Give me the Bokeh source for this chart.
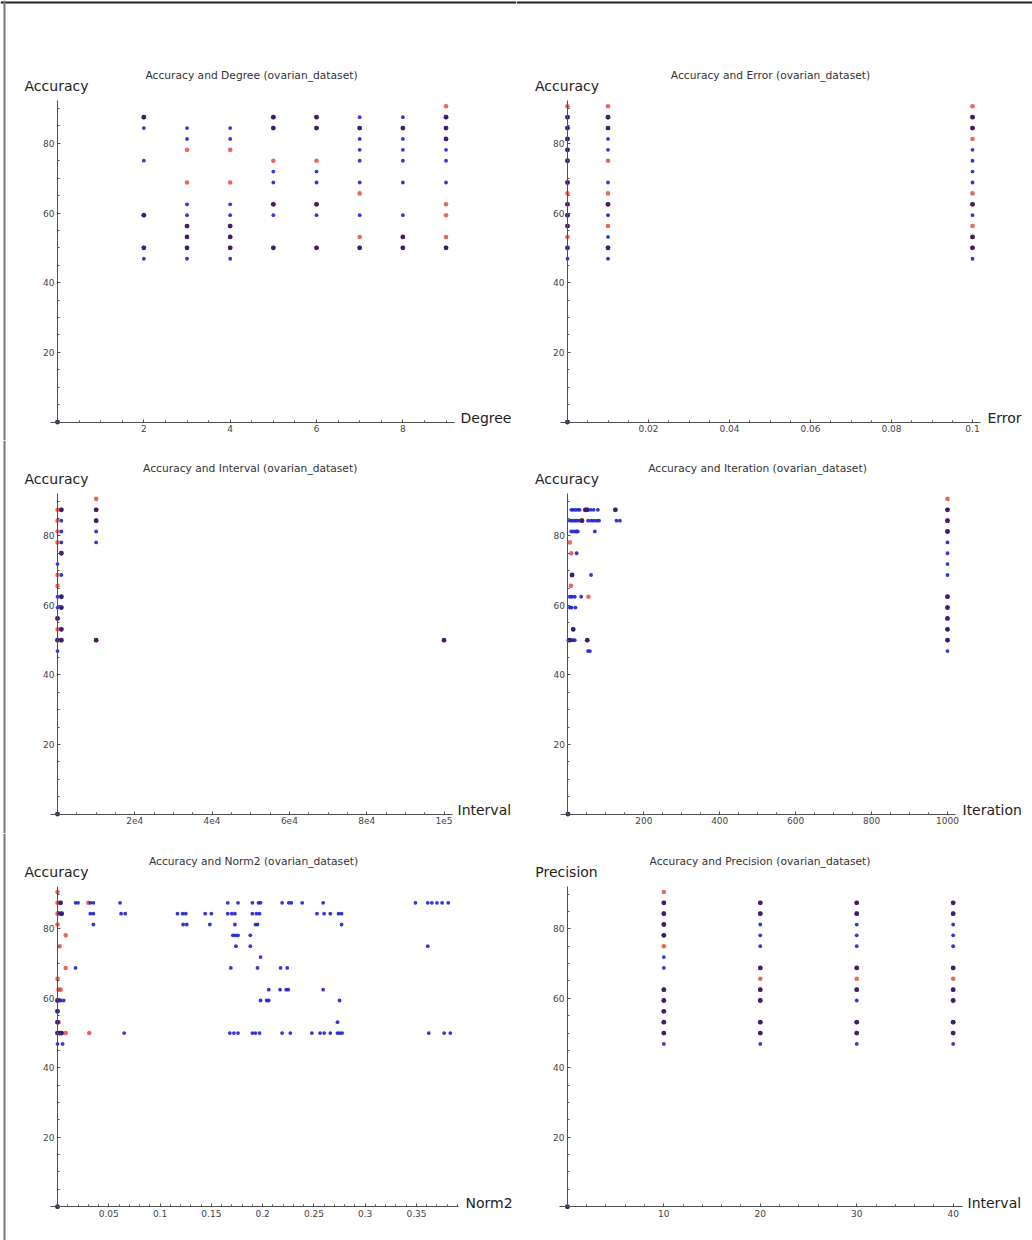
import numpy as np
from bokeh.plotting import figure
from bokeh.models import Range1d, FixedTicker, Label, Span
from bokeh.layouts import column, row
from bokeh.embed import file_html
from bokeh.resources import INLINE

# ---------------- data ----------------
# Panel 1: Accuracy vs Degree
deg_red_x = [0, 2, 2, 2, 3, 3, 3, 3, 3, 4, 4, 4, 4, 4, 5, 5, 5, 5, 5, 6, 6, 6, 6, 6,
             7, 7, 7, 7, 8, 8, 8, 9, 9, 9, 9, 9, 9, 9, 9]
deg_red_y = [0, 87.5, 59.375, 50, 78.125, 68.75, 56.25, 53.125, 50, 78.125, 68.75, 56.25, 53.125, 50,
             87.5, 84.375, 75, 62.5, 50, 87.5, 84.375, 75, 62.5, 50,
             84.375, 65.625, 53.125, 50, 84.375, 53.125, 50,
             90.625, 87.5, 84.375, 81.25, 62.5, 59.375, 53.125, 50]
deg_blue_x = [0, 2, 2, 2, 2, 2, 2, 3, 3, 3, 3, 3, 3, 3, 3, 4, 4, 4, 4, 4, 4, 4, 4,
              5, 5, 5, 5, 5, 5, 5, 6, 6, 6, 6, 6, 6, 6, 7, 7, 7, 7, 7, 7, 7, 7,
              8, 8, 8, 8, 8, 8, 8, 8, 8, 9, 9, 9, 9, 9, 9, 9]
deg_blue_y = [0, 87.5, 84.375, 75, 59.375, 50, 46.875,
              84.375, 81.25, 62.5, 59.375, 56.25, 53.125, 50, 46.875,
              84.375, 81.25, 62.5, 59.375, 56.25, 53.125, 50, 46.875,
              87.5, 84.375, 71.875, 68.75, 62.5, 59.375, 50,
              87.5, 84.375, 71.875, 68.75, 62.5, 59.375, 50,
              87.5, 84.375, 81.25, 78.125, 75, 68.75, 59.375, 50,
              87.5, 84.375, 81.25, 78.125, 75, 68.75, 59.375, 53.125, 50,
              87.5, 84.375, 81.25, 78.125, 75, 68.75, 50]

# Panel 2: Accuracy vs Error
err_red_x = [0] * 14 + [0.01] * 8 + [0.1] * 9
err_red_y = [0, 90.625, 87.5, 84.375, 81.25, 78.125, 75, 68.75, 65.625, 62.5, 59.375, 56.25, 53.125, 50,
             90.625, 87.5, 84.375, 75, 65.625, 62.5, 56.25, 50,
             90.625, 87.5, 84.375, 81.25, 65.625, 62.5, 56.25, 53.125, 50]
err_blue_x = [0] * 12 + [0.01] * 10 + [0.1] * 11
err_blue_y = [0, 87.5, 84.375, 81.25, 78.125, 75, 68.75, 62.5, 59.375, 56.25, 50, 46.875,
              87.5, 84.375, 81.25, 78.125, 68.75, 62.5, 59.375, 53.125, 50, 46.875,
              87.5, 84.375, 78.125, 75, 71.875, 68.75, 62.5, 59.375, 53.125, 50, 46.875]

# Panel 3: Accuracy vs Interval
int_red_x = [0] + [10] * 9 + [1000] * 6 + [10000] * 4 + [100000]
int_red_y = [0, 87.5, 84.375, 81.25, 78.125, 68.75, 65.625, 56.25, 53.125, 50,
             87.5, 75, 62.5, 59.375, 53.125, 50,
             90.625, 87.5, 84.375, 50, 50]
int_blue_x = [0] + [10] * 6 + [1000] * 10 + [10000] * 5 + [100000]
int_blue_y = [0, 71.875, 62.5, 59.375, 56.25, 50, 46.875,
              87.5, 84.375, 81.25, 78.125, 75, 68.75, 62.5, 59.375, 53.125, 50,
              87.5, 84.375, 81.25, 78.125, 50, 50]

# Panel 4: Accuracy vs Iteration
it_red_x = [0, 1000, 1000, 1000, 1000, 1000, 1000, 1000, 1000, 1000,
            46, 51, 125, 37, 5, 9, 11, 8, 54, 14, 51, 4]
it_red_y = [0, 90.625, 87.5, 84.375, 81.25, 62.5, 59.375, 56.25, 53.125, 50,
            87.5, 87.5, 87.5, 84.375, 78.125, 75, 68.75, 65.625, 62.5, 53.125, 50, 50]
it_blue_x = [0] + [1000] * 13 + [9, 14, 20, 26, 31, 46, 51, 60, 68, 79, 125,
             5, 11, 17, 23, 29, 37, 53, 61, 68, 76, 82, 128, 137,
             9, 16, 22, 26, 71, 23, 11, 61, 5, 11, 18, 35, 5, 10, 20, 14,
             1, 4, 9, 13, 18, 51, 53, 58]
it_blue_y = [0, 87.5, 84.375, 81.25, 78.125, 75, 71.875, 68.75, 62.5, 59.375, 56.25, 53.125, 50, 46.875] + \
            [87.5] * 11 + [84.375] * 13 + [81.25] * 5 + [75, 68.75, 68.75] + [62.5] * 4 + \
            [59.375] * 3 + [53.125] + [50] * 6 + [46.875] * 2

# Panel 5: Accuracy vs Norm2
nrm_red_x = [0, 0, 0, 0.003, 0.030, 0, 0.004, 0, 0.008, 0.002, 0.008, 0, 0.001, 0.003,
             0, 0, 0, 0.001, 0, 0.002, 0.004, 0.008, 0.031]
nrm_red_y = [0, 90.625, 87.5, 87.5, 87.5, 84.375, 84.375, 81.25, 78.125, 75, 68.75, 65.625, 62.5, 62.5,
             59.375, 56.25, 53.125, 53.125, 50, 50, 50, 50, 50]
nrm_blue_x = [0,
              0.003, 0.0176, 0.020, 0.032, 0.035, 0.061, 0.166, 0.176, 0.190, 0.196, 0.198, 0.219, 0.2255,
              0.228, 0.2386, 0.259, 0.349, 0.361, 0.365, 0.370, 0.375, 0.381,
              0.002, 0.004, 0.032, 0.035, 0.062, 0.066, 0.117, 0.122, 0.125, 0.144, 0.150, 0.166, 0.170,
              0.173, 0.190, 0.194, 0.197, 0.253, 0.260, 0.266, 0.274, 0.277,
              0.035, 0.1225, 0.126, 0.1485, 0.173, 0.193, 0.195, 0.277,
              0.171, 0.1735, 0.176, 0.188,
              0.174, 0.188, 0.361,
              0.198,
              0.0176, 0.169, 0.195, 0.2175, 0.224,
              0.206, 0.217, 0.223, 0.225, 0.259,
              0, 0.003, 0.006, 0.198, 0.204, 0.206, 0.275,
              0,
              0, 0.273,
              0, 0.002, 0.004, 0.065, 0.168, 0.172, 0.176, 0.190, 0.193, 0.197, 0.219, 0.227, 0.248,
              0.256, 0.260, 0.266, 0.273, 0.275, 0.2775, 0.362, 0.377, 0.383,
              0, 0.005]
nrm_blue_y = [0] + [87.5] * 22 + [84.375] * 22 + [81.25] * 8 + [78.125] * 4 + [75] * 3 + [71.875] + \
             [68.75] * 5 + [62.5] * 5 + [59.375] * 7 + [56.25] + [53.125] * 2 + [50] * 22 + [46.875] * 2

# Panel 6: Precision vs Interval
pre_red_x = [0] + [10] * 11 + [20] * 8 + [30] * 7 + [40] * 8
pre_red_y = [0, 90.625, 87.5, 84.375, 81.25, 78.125, 75, 62.5, 59.375, 56.25, 53.125, 50,
             87.5, 84.375, 68.75, 65.625, 62.5, 59.375, 53.125, 50,
             87.5, 84.375, 68.75, 65.625, 62.5, 53.125, 50,
             87.5, 84.375, 68.75, 65.625, 62.5, 59.375, 53.125, 50]
pre_blue_x = [0] + [10] * 12 + [20] * 11 + [30] * 11 + [40] * 11
pre_blue_y = [0, 87.5, 84.375, 81.25, 78.125, 71.875, 68.75, 62.5, 59.375, 56.25, 53.125, 50, 46.875,
              87.5, 84.375, 81.25, 78.125, 75, 68.75, 62.5, 59.375, 53.125, 50, 46.875,
              87.5, 84.375, 81.25, 78.125, 75, 68.75, 62.5, 59.375, 53.125, 50, 46.875,
              87.5, 84.375, 81.25, 78.125, 75, 68.75, 62.5, 59.375, 53.125, 50, 46.875]

# tick labels
y_ticks = [20, 40, 60, 80]
deg_ticks = [2, 4, 6, 8]
deg_tick_labels = ["2", "4", "6", "8"]
err_ticks = [0.02, 0.04, 0.06, 0.08, 0.1]
err_tick_labels = ["0.02", "0.04", "0.06", "0.08", "0.1"]
int_ticks = [20000, 40000, 60000, 80000, 100000]
int_tick_labels = ["2e4", "4e4", "6e4", "8e4", "1e5"]
it_ticks = [200, 400, 600, 800, 1000]
it_tick_labels = ["200", "400", "600", "800", "1000"]
nrm_ticks = [0.05, 0.1, 0.15, 0.2, 0.25, 0.3, 0.35]
nrm_tick_labels = ["0.05", "0.1", "0.15", "0.2", "0.25", "0.3", "0.35"]
pre_ticks = [10, 20, 30, 40]
pre_tick_labels = ["10", "20", "30", "40"]

# ---------------- layout / style ----------------
FONT = "DejaVu Sans"
COL_LEFT = [0, 516]
COL_W = 516
ROW_TOP = [0, 440, 833]
ROW_H = [440, 393, 407]
RED = "#e0352a"
BLUE = "#2020d0"
BOTH = "#3a1f66"
AXIS = "#505050"


def panel(col, rw, origin, scale, x_end, xticks, xlabels, minor_step,
          title, title_pos, ylab, ylab_pos, xlab, xlab_pos,
          rx, ry, bx, by):
    left, top = COL_LEFT[col], ROW_TOP[rw]
    w, h = COL_W, ROW_H[rw]
    ox, oy = origin
    kx, ky = scale
    x0 = -(ox - left) / kx
    x1 = x0 + w / kx
    y0 = -(top + h - oy) / ky
    y1 = y0 + h / ky

    def dx(X):
        return (X - ox) / kx

    def dy(Y):
        return (oy - Y) / ky

    p = figure(width=w, height=h, x_range=Range1d(x0, x1), y_range=Range1d(y0, y1),
               output_backend="svg", toolbar_location=None, title=None, min_border=0)
    p.outline_line_color = None
    p.grid.visible = False
    p.background_fill_color = "white"
    p.border_fill_color = "white"

    xa = p.xaxis[0]
    ya = p.yaxis[0]
    xa.fixed_location = 0
    ya.fixed_location = 0
    xa.bounds = (dx(ox - 7.5), x_end)
    ya.bounds = (0, 92.2)
    xminor = list(np.arange(minor_step, x_end, minor_step))
    xa.ticker = FixedTicker(ticks=xticks, minor_ticks=xminor)
    ya.ticker = FixedTicker(ticks=y_ticks, minor_ticks=list(np.arange(5, 92, 5)))
    xa.major_label_overrides = {t: l for t, l in zip(xticks, xlabels)}
    ya.major_label_overrides = {t: str(t) for t in y_ticks}
    for a in (xa, ya):
        a.axis_line_color = AXIS
        a.axis_line_width = 1
        a.major_tick_line_color = AXIS
        a.minor_tick_line_color = AXIS
        a.major_tick_in = 3
        a.major_tick_out = 0
        a.minor_tick_in = 2
        a.minor_tick_out = 0
        a.major_label_text_font = FONT
        a.major_label_text_font_size = "9px"
        a.major_label_text_color = "#444444"
        a.major_label_standoff = 3

    # points present in both series are drawn darker (overlap of red and blue marks)
    red_set = set(zip(rx, ry))
    both = [pt for pt in dict.fromkeys(zip(bx, by)) if pt in red_set]
    p.scatter(rx, ry, size=4.6, fill_color=RED, line_color=None, fill_alpha=0.75)
    p.scatter(bx, by, size=3.8, fill_color=BLUE, line_color=None, fill_alpha=0.9)
    if both:
        p.scatter([q[0] for q in both], [q[1] for q in both], size=4.8,
                  fill_color=BOTH, line_color=None, fill_alpha=0.9)

    p.add_layout(Label(x=dx(title_pos[0]), y=dy(title_pos[1]), text=title, text_font=FONT,
                       text_font_size="10.7px", text_color="#333333", text_align="center",
                       text_baseline="middle"))
    p.add_layout(Label(x=dx(ylab_pos[0]), y=dy(ylab_pos[1]), text=ylab, text_font=FONT,
                       text_font_size="14px", text_color="#222222", text_align="center",
                       text_baseline="middle"))
    p.add_layout(Label(x=dx(xlab_pos[0]), y=dy(xlab_pos[1]), text=xlab, text_font=FONT,
                       text_font_size="14px", text_color="#222222", text_align="left",
                       text_baseline="middle"))
    # sheet frame lines (top and left edge)
    if rw == 0:
        p.add_layout(Span(location=dy(2), dimension="width", line_color="#222222", line_width=2))
    if col == 0:
        p.add_layout(Span(location=dx(4), dimension="height", line_color="#777777", line_width=2))
    return p


p1 = panel(0, 0, (57, 421.6), (43.17, 3.485), 9.2, deg_ticks, deg_tick_labels, 0.5,
           "Accuracy and Degree (ovarian_dataset)", (251, 75), "Accuracy", (56, 85),
           "Degree", (460, 417), deg_red_x, deg_red_y, deg_blue_x, deg_blue_y)
p2 = panel(1, 0, (567, 421.6), (4050, 3.485), 0.102, err_ticks, err_tick_labels, 0.005,
           "Accuracy and Error (ovarian_dataset)", (770, 75), "Accuracy", (566.5, 85),
           "Error", (987, 417), err_red_x, err_red_y, err_blue_x, err_blue_y)
p3 = panel(0, 1, (57, 813.6), (0.003865, 3.478), 102100, int_ticks, int_tick_labels, 5000,
           "Accuracy and Interval (ovarian_dataset)", (249.7, 468), "Accuracy", (56, 478),
           "Interval", (457, 809), int_red_x, int_red_y, int_blue_x, int_blue_y)
p4 = panel(1, 1, (567.4, 813.6), (0.3796, 3.478), 1021, it_ticks, it_tick_labels, 50,
           "Accuracy and Iteration (ovarian_dataset)", (757, 468), "Accuracy", (566.5, 478),
           "Iteration", (962, 809), it_red_x, it_red_y, it_blue_x, it_blue_y)
p5 = panel(0, 2, (57, 1206.2), (1025.6, 3.473), 0.391, nrm_ticks, nrm_tick_labels, 0.01,
           "Accuracy and Norm2 (ovarian_dataset)", (253, 861), "Accuracy", (56, 871),
           "Norm2", (465, 1202), nrm_red_x, nrm_red_y, nrm_blue_x, nrm_blue_y)
p6 = panel(1, 2, (566.9, 1206.2), (9.644, 3.473), 40.94, pre_ticks, pre_tick_labels, 2,
           "Accuracy and Precision (ovarian_dataset)", (759.5, 861), "Precision", (566, 871),
           "Interval", (967, 1202), pre_red_x, pre_red_y, pre_blue_x, pre_blue_y)

layout = column(row(p1, p2), row(p3, p4), row(p5, p6))

with open("out.html", "w") as f:
    f.write(file_html(layout, INLINE))
